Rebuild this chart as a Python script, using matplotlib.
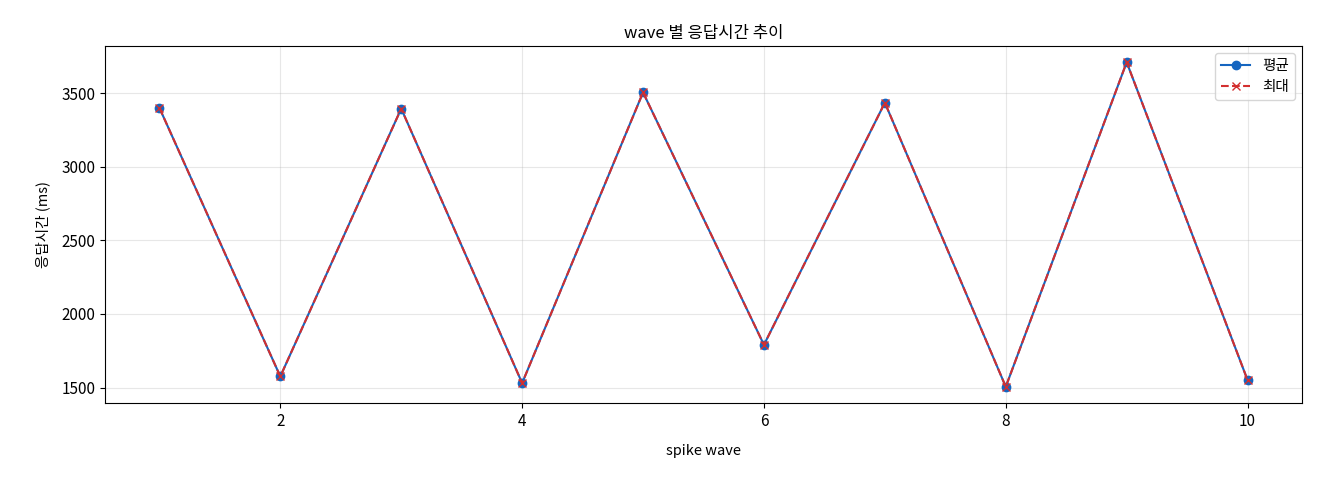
import matplotlib
matplotlib.use("Agg")
import matplotlib.pyplot as plt

plt.rcParams['font.family'] = ['Noto Sans CJK KR', 'DejaVu Sans']

waves = [1, 2, 3, 4, 5, 6, 7, 8, 9, 10]
avg = [3400, 1575, 3395, 1530, 3505, 1790, 3435, 1505, 3710, 1550]
mx = [3400, 1575, 3395, 1530, 3505, 1790, 3435, 1505, 3710, 1550]

fig = plt.figure(figsize=(13.2, 4.8), dpi=100)
ax = fig.add_axes([105/1320, 1-403/480, (1302-105)/1320, (403-46)/480])
ax.plot(waves, avg, '-o', color='#1565C0', label='평균', markersize=6)
ax.plot(waves, mx, '--x', color='#D32F2F', label='최대', markersize=6)
ax.set_title('wave 별 응답시간 추이', fontsize=12)
ax.set_xlabel('spike wave', fontsize=10.5, labelpad=10)
ax.set_ylabel('응답시간 (ms)', fontsize=10.5, labelpad=8)
ax.tick_params(labelsize=11)
ax.grid(True, alpha=0.3)
ax.legend(loc='upper right', fontsize=10.5)
fig.savefig('out.png', dpi=100)
